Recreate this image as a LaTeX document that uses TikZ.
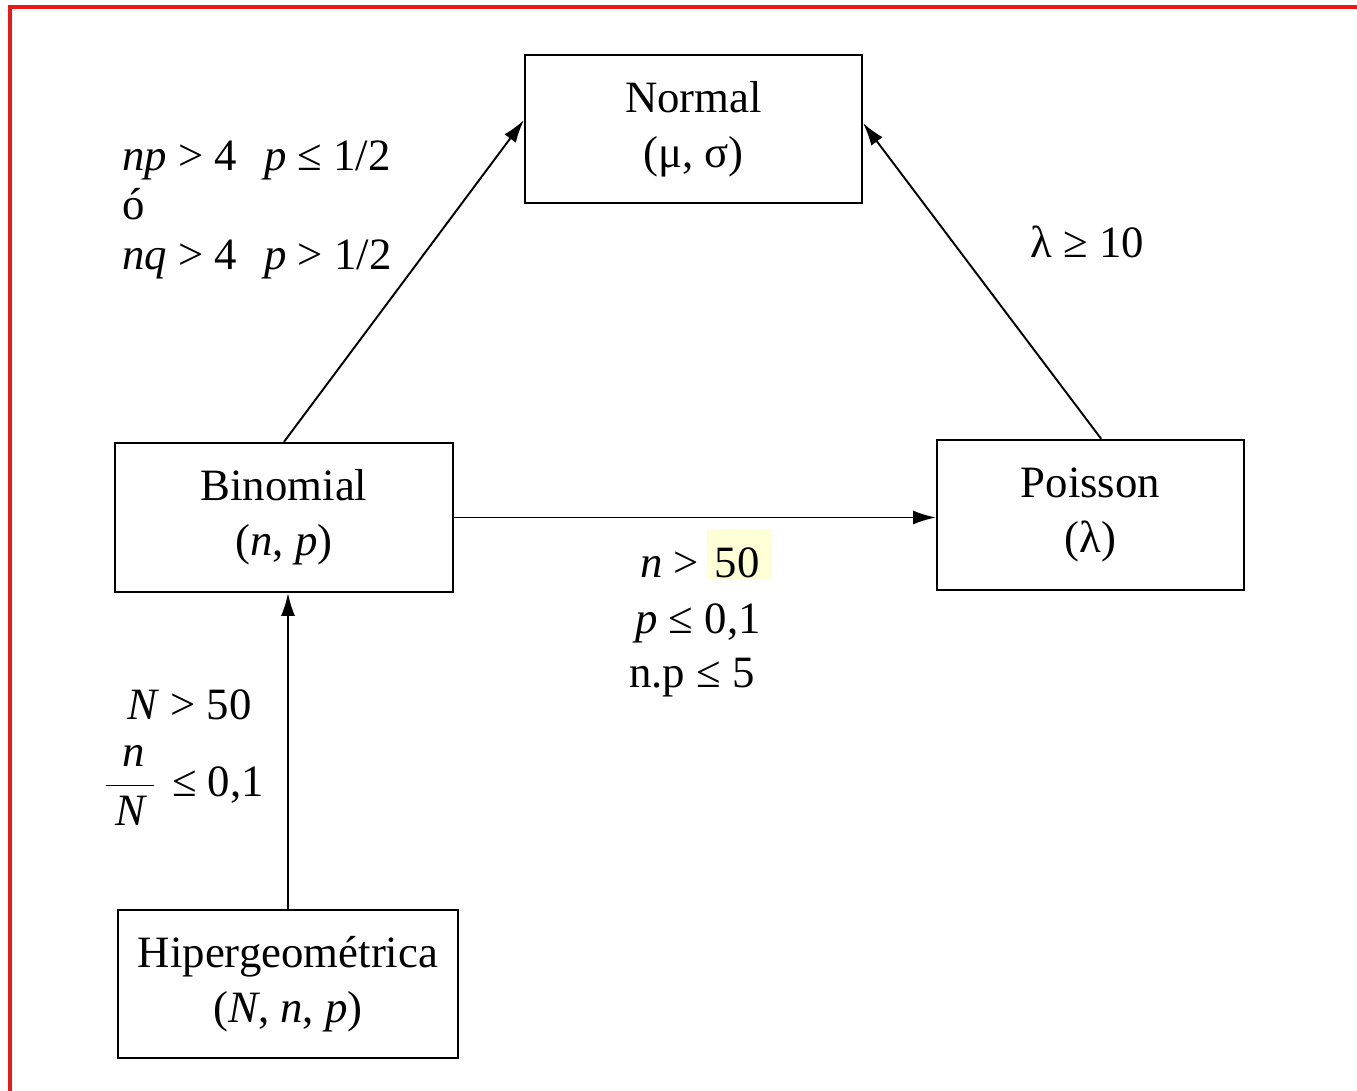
\documentclass[tikz,border=0pt]{standalone}
\usepackage{fontspec}
\setmainfont{Liberation Serif}
\usetikzlibrary{arrows.meta}

\definecolor{hilite}{RGB}{255,255,214}
\definecolor{frame}{RGB}{236,24,24}

\tikzset{
  distbox/.style={draw, line width=1.3pt, align=center, inner sep=0pt,
    font=\fontsize{25.5}{31.5}\selectfont},
  cond/.style={inner sep=0pt, font=\fontsize{25.5}{30}\selectfont},
  link/.style={->, line width=1.1pt},
}

\begin{document}
\begin{tikzpicture}[x=0.02cm, y=-0.02cm, >={Latex[length=13pt,width=8pt]}]
  \useasboundingbox (0,0) rectangle (1357,1091);
  \draw[frame, line width=2pt] (10,1091) -- (10,7) -- (1357,7);

  % the four distributions
  \node[distbox, minimum width=6.74cm, minimum height=2.96cm] (normal) at (693.5,129) {Normal\\(μ, σ)};
  \node[distbox, minimum width=6.76cm, minimum height=2.98cm] (binom) at (284,517.5) {Binomial\\(\textit{n}, \textit{p})};
  \node[distbox, minimum width=6.14cm, minimum height=3.0cm] (poisson) at (1090.5,515) {Poisson\\(λ)};
  \node[distbox, minimum width=6.8cm, minimum height=2.96cm] (hiper) at (288,984) {Hipergeométrica\\(\textit{N}, \textit{n}, \textit{p})};

  % approximations
  \draw[link] (binom.north) -- (normal.177);
  \draw[link] (poisson.82) -- (normal.2);
  \draw[link] (binom.east) -- (binom.east -| poisson.west);
  \draw[link] (hiper.north) -- (hiper.north |- binom.south);

  % conditions
  \node[cond, anchor=base west] (npcond) at (122,171) {\textit{np} > 4\hspace{0.6em}\textit{p} ≤ 1/2};
  \node[cond, anchor=base west] (ocond) at (122,220) {ó};
  \node[cond, anchor=base west] (nqcond) at (122,270) {\textit{nq} > 4\hspace{0.6em}\textit{p} > 1/2};
  \node[cond, anchor=base west] (lamcond) at (1030,258) {λ ≥ 10};

  \fill[hilite] (707,529) rectangle (772,579);
  \node[cond, anchor=base west] (ncond) at (640,577) {\textit{n} > \hspace{0.1em}50};
  \node[cond, anchor=base west] (pcond) at (635,633) {\textit{p} ≤ 0,1};
  \node[cond, anchor=base west] (npfive) at (629,687) {n.p ≤ 5};

  \node[cond, anchor=base west] (Ncond) at (127,719) {\textit{N} > 50};
  \node[cond, anchor=base west] (fraccond) at (104,796) {$\displaystyle\frac{\hspace{0.15em}\mbox{\itshape n}}{\hspace{0.2em}\mbox{\itshape N}\hspace{0.2em}}$\hspace{0.1em} ≤ 0,1};
\end{tikzpicture}
\end{document}
